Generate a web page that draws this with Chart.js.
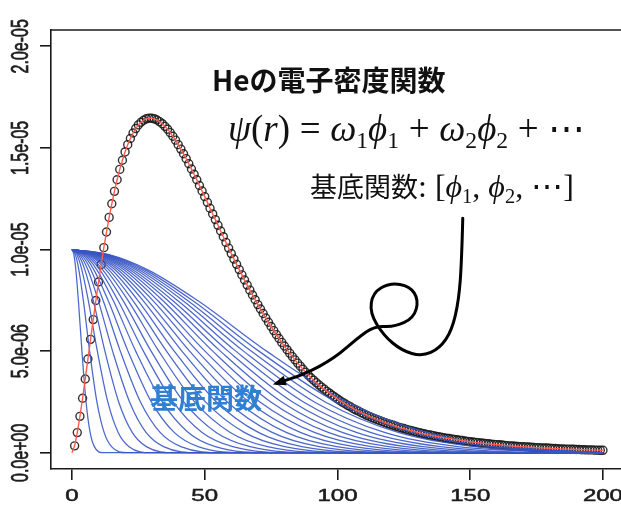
<!DOCTYPE html>
<html>
<head>
<meta charset="utf-8">
<script src="https://cdn.jsdelivr.net/npm/chart.js@4/dist/chart.umd.min.js"></script>
<style>
  html, body { margin: 0; padding: 0; background: #fff; overflow: hidden; }
  #wrap { position: relative; width: 621px; height: 509px; }
  #chart { position: absolute; left: 0; top: 0; }
  .note { position: absolute; white-space: nowrap; color: #111; line-height: 1; }
  .jp { font-family: "Noto Sans CJK JP", "Noto Sans", sans-serif; }
  .math { font-family: "Liberation Serif", "DejaVu Serif", serif; }
  .math i { font-style: italic; }
  .math sub { font-size: 64%; vertical-align: -0.3em; font-style: normal; }
  .math .op { margin: 0 0.26em; }
</style>
</head>
<body>
<div id="wrap">
  <canvas id="chart" width="621" height="509"></canvas>
  <div class="note jp" id="title" style="left:212px; top:65px; font-size:28px; font-weight:700;">Heの電子密度関数</div>
  <div class="note math" id="formula" style="left:228px; top:110px; font-size:37px;"><i>ψ</i>(<i>r</i>)<span class="op">=</span><i>ω</i><sub>1</sub><i>ϕ</i><sub>1</sub><span class="op">+</span><i>ω</i><sub>2</sub><i>ϕ</i><sub>2</sub><span class="op">+</span>⋯</div>
  <div class="note" id="basis" style="left:310px; top:170px;"><span class="jp" style="font-size:27px;">基底関数</span><span class="math" style="font-size:32px;">: [<i>ϕ</i><sub>1</sub>, <i>ϕ</i><sub>2</sub>, ⋯]</span></div>
  <div class="note jp" id="basisLabel" style="left:150px; top:383px; font-size:28px; font-weight:700; color:#2f7fd2;">基底関数</div>
</div>
<script>
// He electron density (units of 1e-6), r = 0..200 step 1
const R_STEP = 1;
const densityValues = [
  0, 0.34, 0.99, 1.79, 2.68, 3.63, 4.61, 5.58, 6.55, 7.49,
  8.40, 9.26, 10.09, 10.86, 11.58, 12.25, 12.86, 13.43, 13.94, 14.39,
  14.80, 15.16, 15.46, 15.73, 15.95, 16.13, 16.26, 16.36, 16.43, 16.46,
  16.46, 16.43, 16.37, 16.29, 16.19, 16.06, 15.92, 15.75, 15.57, 15.38,
  15.16, 14.94, 14.71, 14.47, 14.22, 13.96, 13.70, 13.43, 13.15, 12.88,
  12.60, 12.32, 12.03, 11.75, 11.47, 11.19, 10.91, 10.63, 10.35, 10.07,
  9.80, 9.53, 9.27, 9.01, 8.75, 8.50, 8.25, 8.00, 7.76, 7.53,
  7.29, 7.07, 6.85, 6.63, 6.42, 6.21, 6.01, 5.81, 5.62, 5.43,
  5.25, 5.07, 4.90, 4.73, 4.57, 4.41, 4.26, 4.11, 3.96, 3.82,
  3.69, 3.57, 3.45, 3.34, 3.23, 3.13, 3.02, 2.93, 2.83, 2.74,
  2.65, 2.56, 2.48, 2.40, 2.32, 2.25, 2.17, 2.10, 2.04, 1.97,
  1.91, 1.84, 1.79, 1.73, 1.68, 1.63, 1.58, 1.53, 1.48, 1.43,
  1.39, 1.35, 1.30, 1.26, 1.22, 1.19, 1.15, 1.11, 1.08, 1.05,
  1.01, 0.98, 0.95, 0.92, 0.89, 0.87, 0.84, 0.81, 0.79, 0.77,
  0.74, 0.72, 0.70, 0.68, 0.66, 0.64, 0.62, 0.60, 0.58, 0.56,
  0.54, 0.53, 0.51, 0.50, 0.48, 0.47, 0.45, 0.44, 0.42, 0.41,
  0.40, 0.39, 0.38, 0.36, 0.35, 0.34, 0.33, 0.32, 0.31, 0.30,
  0.30, 0.29, 0.28, 0.27, 0.26, 0.25, 0.25, 0.24, 0.23, 0.23,
  0.22, 0.21, 0.21, 0.20, 0.19, 0.19, 0.18, 0.18, 0.17, 0.17,
  0.16, 0.16, 0.15, 0.15, 0.14, 0.14, 0.14, 0.13, 0.13, 0.12,
  0.12
];

// basis functions: heights (units of 1e-6) and the r where each curve reaches them
const BASIS_LEVELS = [10, 9.75, 9, 7.5, 5, 2.5, 1, 0.3, 0];
const basisCrossR = [
  [0, 0.72, 1.46, 2.41, 3.75, 5.30, 6.83, 8.43, 11.7],
  [0, 1.27, 2.59, 4.28, 6.65, 9.39, 12.1, 14.9, 20.7],
  [0, 1.82, 3.72, 6.14, 9.55, 13.5, 17.4, 21.5, 29.8],
  [0, 2.38, 4.86, 8.01, 12.4, 17.6, 22.7, 28.0, 38.8],
  [0, 2.93, 5.99, 9.87, 15.3, 21.7, 27.9, 34.5, 47.9],
  [0, 3.48, 7.12, 11.7, 18.2, 25.8, 33.2, 41.0, 56.9],
  [0, 4.03, 8.25, 13.6, 21.1, 29.9, 38.5, 47.5, 66.0],
  [0, 4.59, 9.38, 15.5, 24.0, 34.0, 43.8, 54.0, 75.0],
  [0, 5.14, 10.5, 17.3, 26.9, 38.1, 49.0, 60.6, 84.1],
  [0, 5.69, 11.6, 19.2, 29.8, 42.1, 54.3, 67.1, 93.1],
  [0, 6.25, 12.8, 21.1, 32.7, 46.2, 59.6, 73.6, 102.2],
  [0, 6.80, 13.9, 22.9, 35.6, 50.3, 64.9, 80.1, 111.2],
  [0, 7.35, 15.0, 24.8, 38.5, 54.4, 70.2, 86.6, 120.3],
  [0, 7.91, 16.2, 26.7, 41.4, 58.5, 75.4, 93.1, 129.3],
  [0, 8.46, 17.3, 28.5, 44.3, 62.6, 80.7, 99.7, 138.3],
  [0, 9.01, 18.4, 30.4, 47.2, 66.7, 86.0, 106.2, 147.4],
  [0, 9.57, 19.6, 32.2, 50.1, 70.8, 91.3, 112.7, 156.4],
  [0, 10.1, 20.7, 34.1, 53.0, 74.9, 96.5, 119.2, 165.5],
  [0, 10.7, 21.8, 36.0, 55.9, 79.0, 101.8, 125.7, 174.5],
  [0, 11.2, 22.9, 37.8, 58.8, 83.1, 107.1, 132.2, 183.6],
  [0, 11.8, 24.1, 39.7, 61.7, 87.2, 112.4, 138.7, 192.6],
  [0, 12.3, 25.2, 41.6, 64.6, 91.3, 117.7, 145.3, 200],
  [0, 12.9, 26.3, 43.4, 67.5, 95.4, 122.9, 151.8, 200],
  [0, 13.4, 27.5, 45.3, 70.4, 99.5, 128.2, 158.3, 200],
  [0, 14.0, 28.6, 47.2, 73.3, 103.6, 133.5, 164.8, 200]
];
const R_END = 200;

const X_TICKS = [0, 50, 100, 150, 200];
const X_TICK_LABELS = ["0", "50", "100", "150", "200"];
const Y_TICKS = [0, 5, 10, 15, 20];
const Y_TICK_LABELS = ["0.0e+00", "5.0e-06", "1.0e-05", "1.5e-05", "2.0e-05"];

// hand drawn arrow, in data coordinates (r, 1e-6)
const arrowPath = [
  [147.2, 11.54], [146.8, 9.47], [145.7, 7.50], [143.1, 6.02], [138.5, 5.13],
  [131.8, 4.74], [124.2, 5.03], [117.4, 5.77], [112.2, 6.88], [113.3, 7.87],
  [119.7, 8.36], [127.3, 8.20], [130.6, 7.51], [128.7, 6.63], [121.6, 6.19],
  [114.0, 6.24], [107.6, 5.65], [99.0, 4.66], [87.7, 3.87], [77.1, 3.42]
];

const densityPoints = densityValues.map((v, i) => ({ x: i * R_STEP, y: v }));

const basisSets = basisCrossR.map((row) => {
  const pts = row.map((r, i) => ({ x: r, y: BASIS_LEVELS[i] }));
  if (row[row.length - 1] < R_END) pts.push({ x: R_END, y: 0 });
  return {
    data: pts,
    borderColor: "rgba(56, 86, 196, 0.9)",
    borderWidth: 1.25,
    pointRadius: 0,
    cubicInterpolationMode: "monotone",
    order: 1
  };
});

// R draws the labels on a device that was stretched sideways afterwards
const LABEL_STRETCH = 1.5;
const LABEL_FONT = '16px "Liberation Sans", Arial, sans-serif';

const boxPlugin = {
  id: "rBox",
  afterDraw(chart) {
    const { ctx, chartArea, scales } = chart;
    ctx.save();
    // top edge of the frame
    ctx.strokeStyle = "#1a1a1a";
    ctx.lineWidth = 1.6;
    ctx.beginPath();
    ctx.moveTo(chartArea.left, chartArea.top);
    ctx.lineTo(chartArea.right, chartArea.top);
    ctx.stroke();

    ctx.fillStyle = "#1c1c1c";
    ctx.strokeStyle = "#1c1c1c";
    ctx.lineWidth = 0.5;
    ctx.font = LABEL_FONT;
    ctx.textAlign = "center";
    ctx.textBaseline = "middle";
    const put = (txt, px, py, turn) => {
      ctx.save();
      ctx.translate(px, py);
      ctx.scale(LABEL_STRETCH, 1);
      if (turn) ctx.rotate(-Math.PI / 2);
      ctx.fillText(txt, 0, 0);
      ctx.strokeText(txt, 0, 0);
      ctx.restore();
    };
    Y_TICKS.forEach((v, i) => put(Y_TICK_LABELS[i], 21, scales.y.getPixelForValue(v), true));
    X_TICKS.forEach((v, i) => put(X_TICK_LABELS[i], scales.x.getPixelForValue(v), 497, false));
    ctx.restore();
  }
};

const arrowPlugin = {
  id: "handArrow",
  afterDraw(chart) {
    const { ctx, scales } = chart;
    const pts = arrowPath.map(([r, v]) => [scales.x.getPixelForValue(r), scales.y.getPixelForValue(v)]);
    ctx.save();
    ctx.strokeStyle = "#000";
    ctx.lineWidth = 3;
    ctx.lineCap = "round";
    ctx.lineJoin = "round";
    ctx.beginPath();
    ctx.moveTo(pts[0][0], pts[0][1]);
    for (let i = 1; i < pts.length - 1; i++) {
      const mx = (pts[i][0] + pts[i + 1][0]) / 2;
      const my = (pts[i][1] + pts[i + 1][1]) / 2;
      ctx.quadraticCurveTo(pts[i][0], pts[i][1], mx, my);
    }
    const last = pts[pts.length - 1];
    ctx.lineTo(last[0], last[1]);
    ctx.stroke();
    // arrow head
    const prev = pts[pts.length - 2];
    const ang = Math.atan2(last[1] - prev[1], last[0] - prev[0]);
    const c = Math.cos(ang), s = Math.sin(ang);
    ctx.fillStyle = "#000";
    ctx.beginPath();
    ctx.moveTo(last[0] + 4 * c, last[1] + 4 * s);
    ctx.lineTo(last[0] - 9 * c + 5 * s, last[1] - 9 * s - 5 * c);
    ctx.lineTo(last[0] - 9 * c - 5 * s, last[1] - 9 * s + 5 * c);
    ctx.closePath();
    ctx.fill();
    ctx.restore();
  }
};

new Chart(document.getElementById("chart"), {
  type: "line",
  data: {
    datasets: [
      {
        // fitted psi(r)
        data: densityPoints,
        borderColor: "#ff5a4e",
        borderWidth: 1.4,
        pointRadius: 0,
        order: 0
      },
      ...basisSets,
      {
        // grid values
        data: densityPoints.slice(1),
        showLine: false,
        pointStyle: "circle",
        pointRadius: 4,
        pointBorderWidth: 1.4,
        pointBorderColor: "rgba(25, 25, 25, 0.9)",
        pointBackgroundColor: "rgba(0, 0, 0, 0)",
        order: 2
      }
    ]
  },
  options: {
    responsive: false,
    animation: false,
    events: [],
    layout: { autoPadding: false, padding: { left: 0, right: 0, top: 30, bottom: 0 } },
    plugins: { legend: { display: false }, tooltip: { enabled: false } },
    scales: {
      x: {
        type: "linear",
        min: -7.9,
        max: 206.8,
        afterBuildTicks: (s) => { s.ticks = X_TICKS.map((v) => ({ value: v })); },
        afterFit: (s) => { s.height = 40; s.paddingLeft = 0; s.paddingRight = 0; },
        ticks: { display: false },
        grid: { drawOnChartArea: false, drawTicks: true, tickLength: 11, color: "#1a1a1a", lineWidth: 1.6 },
        border: { display: true, color: "#1a1a1a", width: 1.6 }
      },
      y: {
        type: "linear",
        min: -0.8,
        max: 20.8,
        afterBuildTicks: (s) => { s.ticks = Y_TICKS.map((v) => ({ value: v })); },
        afterFit: (s) => { s.width = 51; s.paddingTop = 0; s.paddingBottom = 0; },
        ticks: { display: false },
        grid: { drawOnChartArea: false, drawTicks: true, tickLength: 11, color: "#1a1a1a", lineWidth: 1.6 },
        border: { display: true, color: "#1a1a1a", width: 1.6 }
      }
    }
  },
  plugins: [boxPlugin, arrowPlugin]
});
</script>
</body>
</html>
